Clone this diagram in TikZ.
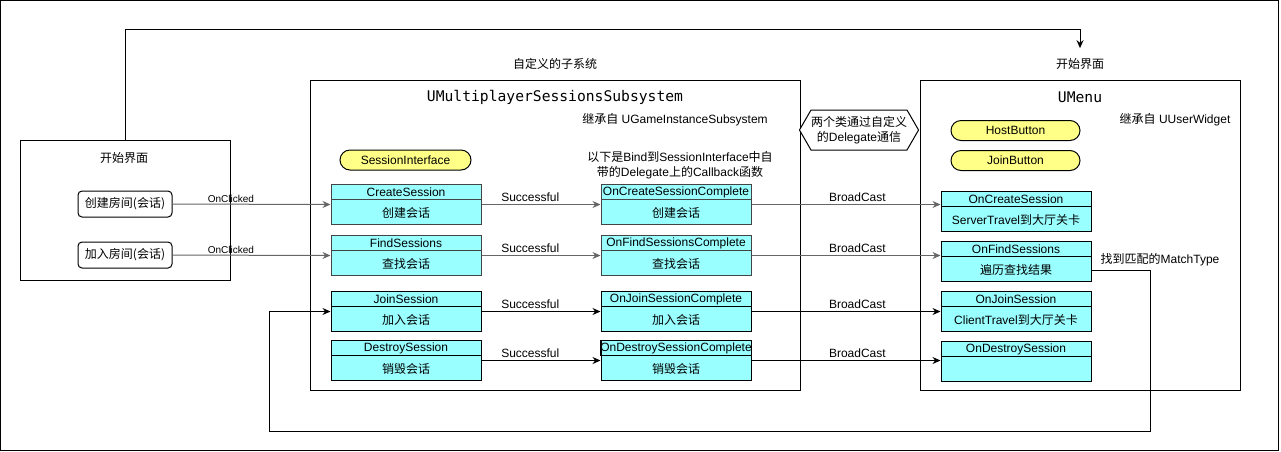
\documentclass[tikz,border=0pt]{standalone}
\usepackage{fontspec}
\setmainfont{Liberation Sans}
\newfontfamily\cjk{Noto Sans CJK SC}
\newfontfamily\codefont{DejaVu Sans Mono}
\usetikzlibrary{arrows.meta}
\usetikzlibrary{shapes.symbols}

\definecolor{fncyan}{HTML}{99FFFF}
\definecolor{btnyellow}{HTML}{FFFF88}
\definecolor{lgray}{HTML}{666666}
\definecolor{dgray}{HTML}{444444}

\newcommand{\zh}[1]{{\cjk #1}}
% function box: name, top centre, header, body, line colour
\newcommand{\fnbox}[5]{%
  \node[fframe, draw=#5, anchor=north] (#1) at (#2) {};
  \node[fhead, draw=#5, anchor=north] (#1-h) at (#1.north) {#3};
  \node[fbody, anchor=north] (#1-b) at (#1-h.south) {#4};
}

\tikzset{
  txt/.style={font=\fontsize{9}{11.25}\selectfont},
  fframe/.style={fill=fncyan, minimum width=112.5pt, minimum height=30pt, inner sep=0pt},
  fhead/.style={txt, minimum width=112.5pt, minimum height=11.25pt, inner sep=0pt},
  fbody/.style={txt, minimum width=112.5pt, minimum height=18.75pt, inner sep=0pt},
  pill/.style={txt, draw, fill=btnyellow, rounded corners=7.5pt, minimum height=15pt, inner sep=0pt},
  uibtn/.style={draw, rounded corners=3pt, minimum width=70.5pt, minimum height=19.5pt, inner sep=0pt, font=\cjk\fontsize{9}{10}\selectfont},
  groupbox/.style={draw, inner sep=0pt},
  lbl/.style={txt, text=black, above, inner sep=1.5pt},
  link/.style={->, >={Stealth[length=6pt, width=5.25pt]}},
}

\begin{document}
\begin{tikzpicture}[x=0.75pt, y=-0.75pt, line width=0.75pt]
\useasboundingbox (0,0) rectangle (1281,451);
\draw (0.5,0.5) rectangle (1278.5,450);

% start screen
\node[groupbox, minimum width=157.5pt, minimum height=105pt] (menuui) at (125,210) {};
\node[txt] (menuui-t) at (124,158) {\zh{开始界面}};
\node[uibtn] (hostui) at (125,204) {创建房间(会话)};
\node[uibtn] (joinui) at (125,255) {加入房间(会话)};

% subsystem
\node[groupbox, minimum width=367.5pt, minimum height=232.5pt] (subsys) at (555,235) {};
\node[txt] (subsys-l) at (555,64) {\zh{自定义的子系统}};
\node[font=\codefont\fontsize{11}{13}\selectfont] (subsys-t) at (555,97) {UMultiplayerSessionsSubsystem};
\node[txt] (subsys-i) at (675,120) {\zh{继承自} UGameInstanceSubsystem};
\node[pill, minimum width=98.25pt] (sessif) at (405.5,160) {SessionInterface};
\node[txt, align=center] (cbnote) at (680,165) {\zh{以下是}Bind\zh{到}SessionInterface\zh{中自}\\\zh{带的}Delegate\zh{上的}Callback\zh{函数}};

\fnbox{cs}{406,184}{CreateSession}{\zh{创建会话}}{dgray}
\fnbox{fs}{406,235}{FindSessions}{\zh{查找会话}}{dgray}
\fnbox{js}{406,291}{JoinSession}{\zh{加入会话}}{black}
\fnbox{ds}{406,340}{DestroySession}{\zh{销毁会话}}{black}

\fnbox{ccs}{676,184}{OnCreateSessionComplete}{\zh{创建会话}}{dgray}
\fnbox{cfs}{676,235}{OnFindSessionsComplete}{\zh{查找会话}}{dgray}
\fnbox{cjs}{676,291}{OnJoinSessionComplete}{\zh{加入会话}}{black}
\fnbox{cds}{676,340}{OnDestroySessionComplete}{\zh{销毁会话}}{black}

% menu widget
\node[groupbox, minimum width=240pt, minimum height=232.5pt] (umenu) at (1080,235) {};
\node[txt] (umenu-l) at (1080,64) {\zh{开始界面}};
\node[font=\codefont\fontsize{11}{13}\selectfont] (umenu-t) at (1080,97) {UMenu};
\node[txt] (umenu-i) at (1175,120) {\zh{继承自} UUserWidget};
\node[pill, minimum width=96.75pt] (hostbtn) at (1015.5,130.5) {HostButton};
\node[pill, minimum width=96.75pt] (joinbtn) at (1015.5,160.5) {JoinButton};

\fnbox{ocs}{1016,191}{OnCreateSession}{ServerTravel\zh{到大厅关卡}}{black}
\fnbox{ofs}{1016,241}{OnFindSessions}{\zh{遍历查找结果}}{black}
\fnbox{ojs}{1016,291}{OnJoinSession}{ClientTravel\zh{到大厅关卡}}{black}
\fnbox{ods}{1016,341}{OnDestroySession}{}{black}

\node[txt, draw, fill=white, signal, signal to=east and west, signal pointer angle=120,
  minimum width=87.75pt, minimum height=30pt, inner sep=0pt, align=center] (deleg) at (859,130)
  {\zh{两个类通过自定义}\\\zh{的}Delegate\zh{通信}};
\node[txt] (match) at (1160,260) {\zh{找到匹配的}MatchType};

% connectors
\draw[link, lgray] (hostui.east) -- (cs.west) node[lbl, pos=.37, font=\fontsize{7.5}{9}\selectfont, inner sep=.5pt]{OnClicked};
\draw[link, lgray] (joinui.east) -- (fs.west) node[lbl, pos=.37, font=\fontsize{7.5}{9}\selectfont, inner sep=.5pt]{OnClicked};

\draw[link, lgray] (cs.east) -- (ccs.west) node[lbl, pos=.41]{Successful};
\draw[link, lgray] (fs.east) -- (cfs.west) node[lbl, pos=.41]{Successful};
\draw[link] (js.east) -- (cjs.west) node[lbl, pos=.41]{Successful};
\draw[link] (ds.east) -- (cds.west) node[lbl, pos=.41]{Successful};

\draw[link, lgray] (ccs.east) -- (ccs.east -| ocs.west) node[lbl, pos=.56]{BroadCast};
\draw[link, lgray] (cfs.east) -- (cfs.east -| ofs.west) node[lbl, pos=.56]{BroadCast};
\draw[link] (cjs.east) -- (cjs.east -| ojs.west) node[lbl, pos=.56]{BroadCast};
\draw[link] (cds.east) -- (cds.east -| ods.west) node[lbl, pos=.56]{BroadCast};

\draw[link] (ofs-b.east) -- ++(59,0) -- ++(0,161) -| ([xshift=-45.75pt]js.west) -- (js.west);
\draw[link, shorten >=4pt] (menuui.north) -- ++(0,-110) -| (umenu-l.north);
\end{tikzpicture}
\end{document}
